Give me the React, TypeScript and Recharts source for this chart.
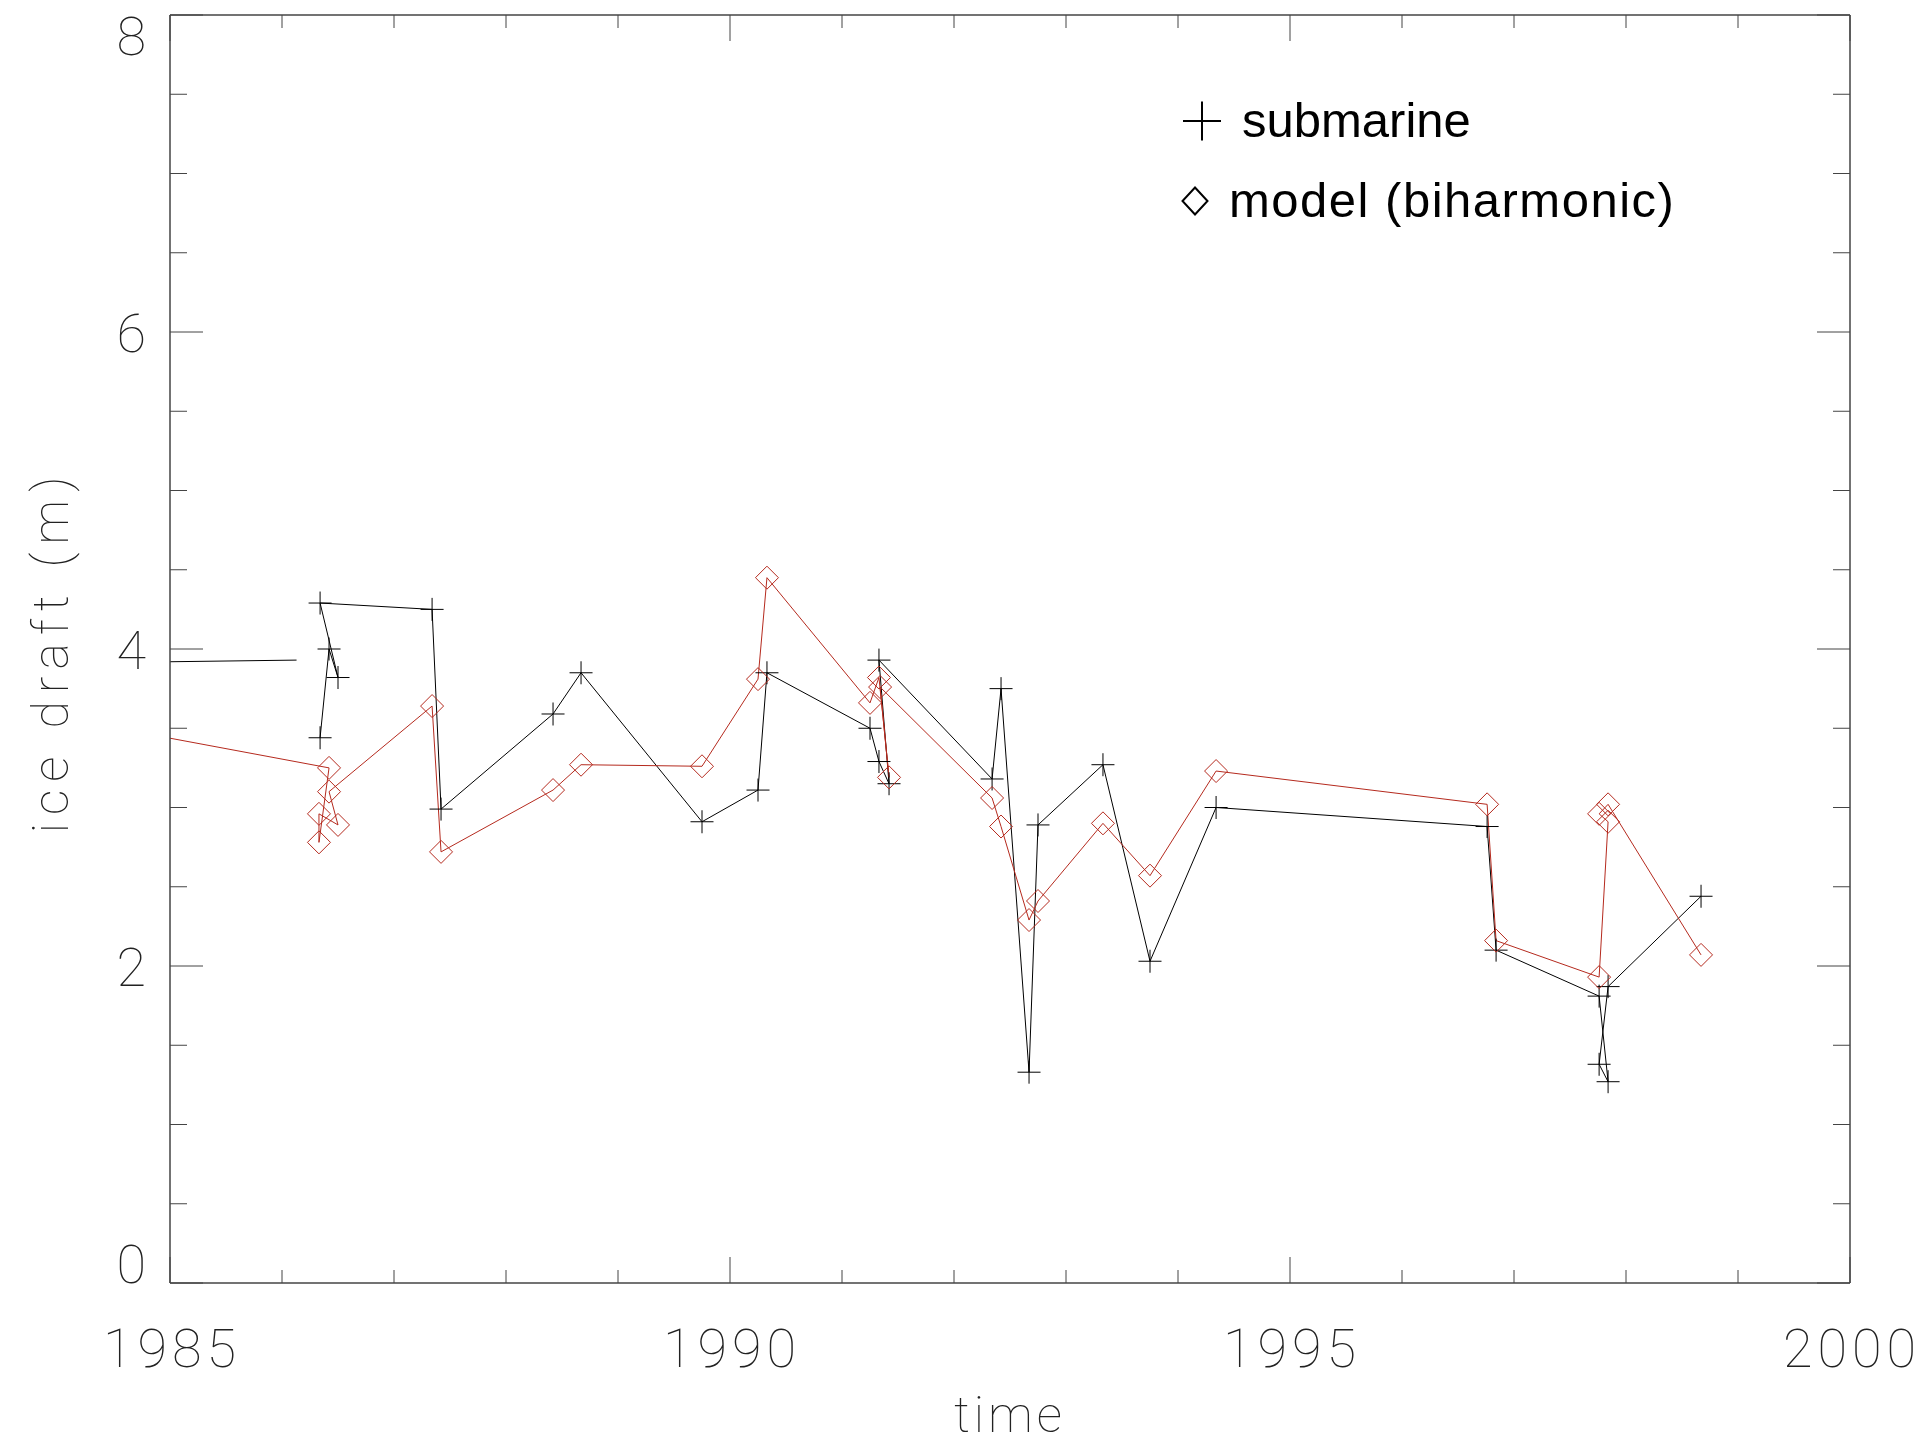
import React from 'react';
import { LineChart, Line, XAxis, YAxis, Legend } from 'recharts';

// submarine ice draft observations (year, metres)
const leadTimes = [1984.5, 1986.13];
const leadDraft = [3.915, 3.93];

const subTimes = [
  1986.34, 1986.42, 1986.5, 1986.34, 1987.34, 1987.42, 1988.42, 1988.67, 1989.75, 1990.25,
  1990.33, 1991.25, 1991.33, 1991.42, 1991.33, 1992.34, 1992.42, 1992.67, 1992.75, 1993.33,
  1993.75, 1994.34, 1996.76, 1996.84, 1997.76, 1997.84, 1997.76, 1997.84, 1998.67,
];
const subDraft = [
  3.44, 4.0, 3.82, 4.29, 4.25, 2.99, 3.59, 3.85, 2.91, 3.11,
  3.85, 3.5, 3.29, 3.15, 3.93, 3.18, 3.75, 1.33, 2.89, 3.27,
  2.03, 3.0, 2.88, 2.1, 1.81, 1.27, 1.38, 1.87, 2.44,
];

// biharmonic model at the same sampling times
const modelTimes = [
  1984.6, 1986.42, 1986.33, 1986.33, 1986.5, 1986.42, 1987.34, 1987.42, 1988.42, 1988.67,
  1989.75, 1990.25, 1990.33, 1991.25, 1991.33, 1991.42, 1991.34, 1992.34, 1992.42, 1992.67,
  1992.75, 1993.33, 1993.75, 1994.34, 1996.76, 1996.84, 1997.76, 1997.84, 1997.76, 1997.84,
  1998.67,
];
const modelDraft = [
  3.49, 3.25, 2.78, 2.96, 2.89, 3.1, 3.64, 2.72, 3.11, 3.27,
  3.26, 3.81, 4.45, 3.66, 3.82, 3.19, 3.76, 3.06, 2.88, 2.29,
  2.41, 2.9, 2.57, 3.23, 3.02, 2.16, 1.93, 2.91, 2.96, 3.02,
  2.07,
];

const xTicks = [1985, 1986, 1987, 1988, 1989, 1990, 1991, 1992, 1993, 1994, 1995, 1996, 1997, 1998, 1999, 2000];
const yTicks = [0, 0.5, 1, 1.5, 2, 2.5, 3, 3.5, 4, 4.5, 5, 5.5, 6, 6.5, 7, 7.5, 8];
const legendLabels = ['submarine', 'model (biharmonic)'];

const X_MIN = 1985;
const X_MAX = 2000;
const Y_MIN = 0;
const Y_MAX = 8;

const AXIS = '#444';
const LABEL = '#222';
const RED = '#b52a1e';
const THIN = { fontFamily: 'Roboto, "DejaVu Sans", sans-serif', fontWeight: 100 };
const LEGEND_FONT = '"Liberation Sans", Arial, sans-serif';

const toRows = (ts: number[], vs: number[]) => ts.map((t, i) => ({ t, v: vs[i] }));
const leadData = toRows(leadTimes, leadDraft);
const subData = toRows(subTimes, subDraft);
const modelData = toRows(modelTimes, modelDraft);

const BottomTick = ({ x, y, payload }: any) => {
  const major = payload.value % 5 === 0;
  return (
    <g>
      <line x1={x} x2={x} y1={y} y2={y - (major ? 26 : 13)} stroke={AXIS} />
      {major && (
        <text x={x + 2} y={y + 84} textAnchor="middle" fontSize={54} letterSpacing={5} fill={LABEL} {...THIN}>
          {payload.value}
        </text>
      )}
    </g>
  );
};

// mirrored ticks on the top edge
const TopTick = ({ x, y, payload }: any) => {
  const major = payload.value % 5 === 0;
  return <line x1={x} x2={x} y1={y} y2={y + (major ? 26 : 13)} stroke={AXIS} />;
};

const LeftTick = ({ x, y, payload }: any) => {
  const major = payload.value % 2 === 0;
  // keep the end labels inside the frame
  const dy = payload.value === Y_MAX ? 40 : payload.value === Y_MIN ? 0 : 20;
  return (
    <g>
      <line x1={x} x2={x + (major ? 33 : 17)} y1={y} y2={y} stroke={AXIS} />
      {major && (
        <text x={x - 24} y={y + dy} textAnchor="end" fontSize={54} fill={LABEL} {...THIN}>
          {payload.value}
        </text>
      )}
    </g>
  );
};

const RightTick = ({ x, y, payload }: any) => {
  const major = payload.value % 2 === 0;
  return <line x1={x} x2={x - (major ? 33 : 17)} y1={y} y2={y} stroke={AXIS} />;
};

const PlusDot = ({ cx, cy, payload }: any) => {
  if (payload.t < X_MIN) return <g />;
  return <path d={`M${cx - 11.5},${cy}h23M${cx},${cy - 11.5}v23`} stroke="#000" strokeWidth={1} fill="none" />;
};

const DiamondDot = ({ cx, cy, payload }: any) => {
  if (payload.t < X_MIN) return <g />;
  return (
    <path
      d={`M${cx},${cy - 11.5}L${cx + 11.5},${cy}L${cx},${cy + 11.5}L${cx - 11.5},${cy}Z`}
      stroke={RED}
      strokeWidth={1}
      fill="none"
    />
  );
};

const LegendBox = () => (
  <svg width={560} height={150}>
    <path d="M13,31h38M32,11.5v39" stroke="#000" strokeWidth={2} />
    <text x={72} y={47} fontSize={49} fontFamily={LEGEND_FONT} fill="#000">
      {legendLabels[0]}
    </text>
    <path d="M25,97.5L37.5,111L25,124.5L12.5,111Z" stroke="#000" strokeWidth={2} fill="none" />
    <text x={59} y={127} fontSize={49} letterSpacing={1.5} fontFamily={LEGEND_FONT} fill="#000">
      {legendLabels[1]}
    </text>
  </svg>
);

export default function App() {
  return (
    <div style={{ position: 'absolute', left: 0, top: 0, background: '#fff' }}>
      <LineChart width={1927} height={1448} margin={{ top: 14, right: 76, bottom: 0, left: 0 }}>
        <XAxis
          xAxisId="bottom"
          dataKey="t"
          type="number"
          domain={[X_MIN, X_MAX]}
          allowDataOverflow
          ticks={xTicks}
          interval={0}
          height={165}
          tickSize={0}
          tickMargin={0}
          tickLine={false}
          axisLine={{ stroke: AXIS, strokeWidth: 1.5 }}
          tick={<BottomTick />}
          label={{
            value: 'time',
            position: 'insideBottom',
            offset: 16,
            fontSize: 50,
            letterSpacing: 4,
            fill: LABEL,
            ...THIN,
          }}
        />
        <XAxis
          xAxisId="top"
          orientation="top"
          dataKey="t"
          type="number"
          domain={[X_MIN, X_MAX]}
          allowDataOverflow
          ticks={xTicks}
          interval={0}
          height={1}
          tickSize={0}
          tickMargin={0}
          tickLine={false}
          axisLine={{ stroke: AXIS, strokeWidth: 1.5 }}
          tick={<TopTick />}
        />
        <YAxis
          yAxisId="left"
          type="number"
          domain={[Y_MIN, Y_MAX]}
          allowDataOverflow
          ticks={yTicks}
          interval={0}
          width={170}
          tickSize={0}
          tickMargin={0}
          tickLine={false}
          axisLine={{ stroke: AXIS, strokeWidth: 1.5 }}
          tick={<LeftTick />}
          label={{
            content: () => (
              <text
                x={68}
                y={651}
                transform="rotate(-90, 68, 651)"
                textAnchor="middle"
                fontSize={50}
                letterSpacing={8}
                fill={LABEL}
                {...THIN}
              >
                ice draft (m)
              </text>
            ),
          }}
        />
        <YAxis
          yAxisId="right"
          orientation="right"
          type="number"
          domain={[Y_MIN, Y_MAX]}
          allowDataOverflow
          ticks={yTicks}
          interval={0}
          width={1}
          tickSize={0}
          tickMargin={0}
          tickLine={false}
          axisLine={{ stroke: AXIS, strokeWidth: 1.5 }}
          tick={<RightTick />}
        />
        <Legend
          layout="vertical"
          align="center"
          verticalAlign="middle"
          wrapperStyle={{ left: 1170, top: 90, width: 560, height: 150 }}
          content={() => <LegendBox />}
        />
        <Line
          xAxisId="top"
          yAxisId="right"
          data={leadData}
          dataKey="v"
          name="submarine lead"
          type="linear"
          stroke="#000"
          strokeWidth={1}
          dot={false}
          activeDot={false}
          legendType="none"
          isAnimationActive={false}
        />
        <Line
          xAxisId="bottom"
          yAxisId="left"
          data={subData}
          dataKey="v"
          name={legendLabels[0]}
          type="linear"
          stroke="#000"
          strokeWidth={1}
          dot={(p: any) => <PlusDot key={`s${p.index}`} {...p} />}
          activeDot={false}
          isAnimationActive={false}
        />
        <Line
          xAxisId="bottom"
          yAxisId="left"
          data={modelData}
          dataKey="v"
          name={legendLabels[1]}
          type="linear"
          stroke={RED}
          strokeWidth={1}
          dot={(p: any) => <DiamondDot key={`m${p.index}`} {...p} />}
          activeDot={false}
          isAnimationActive={false}
        />
      </LineChart>
    </div>
  );
}
